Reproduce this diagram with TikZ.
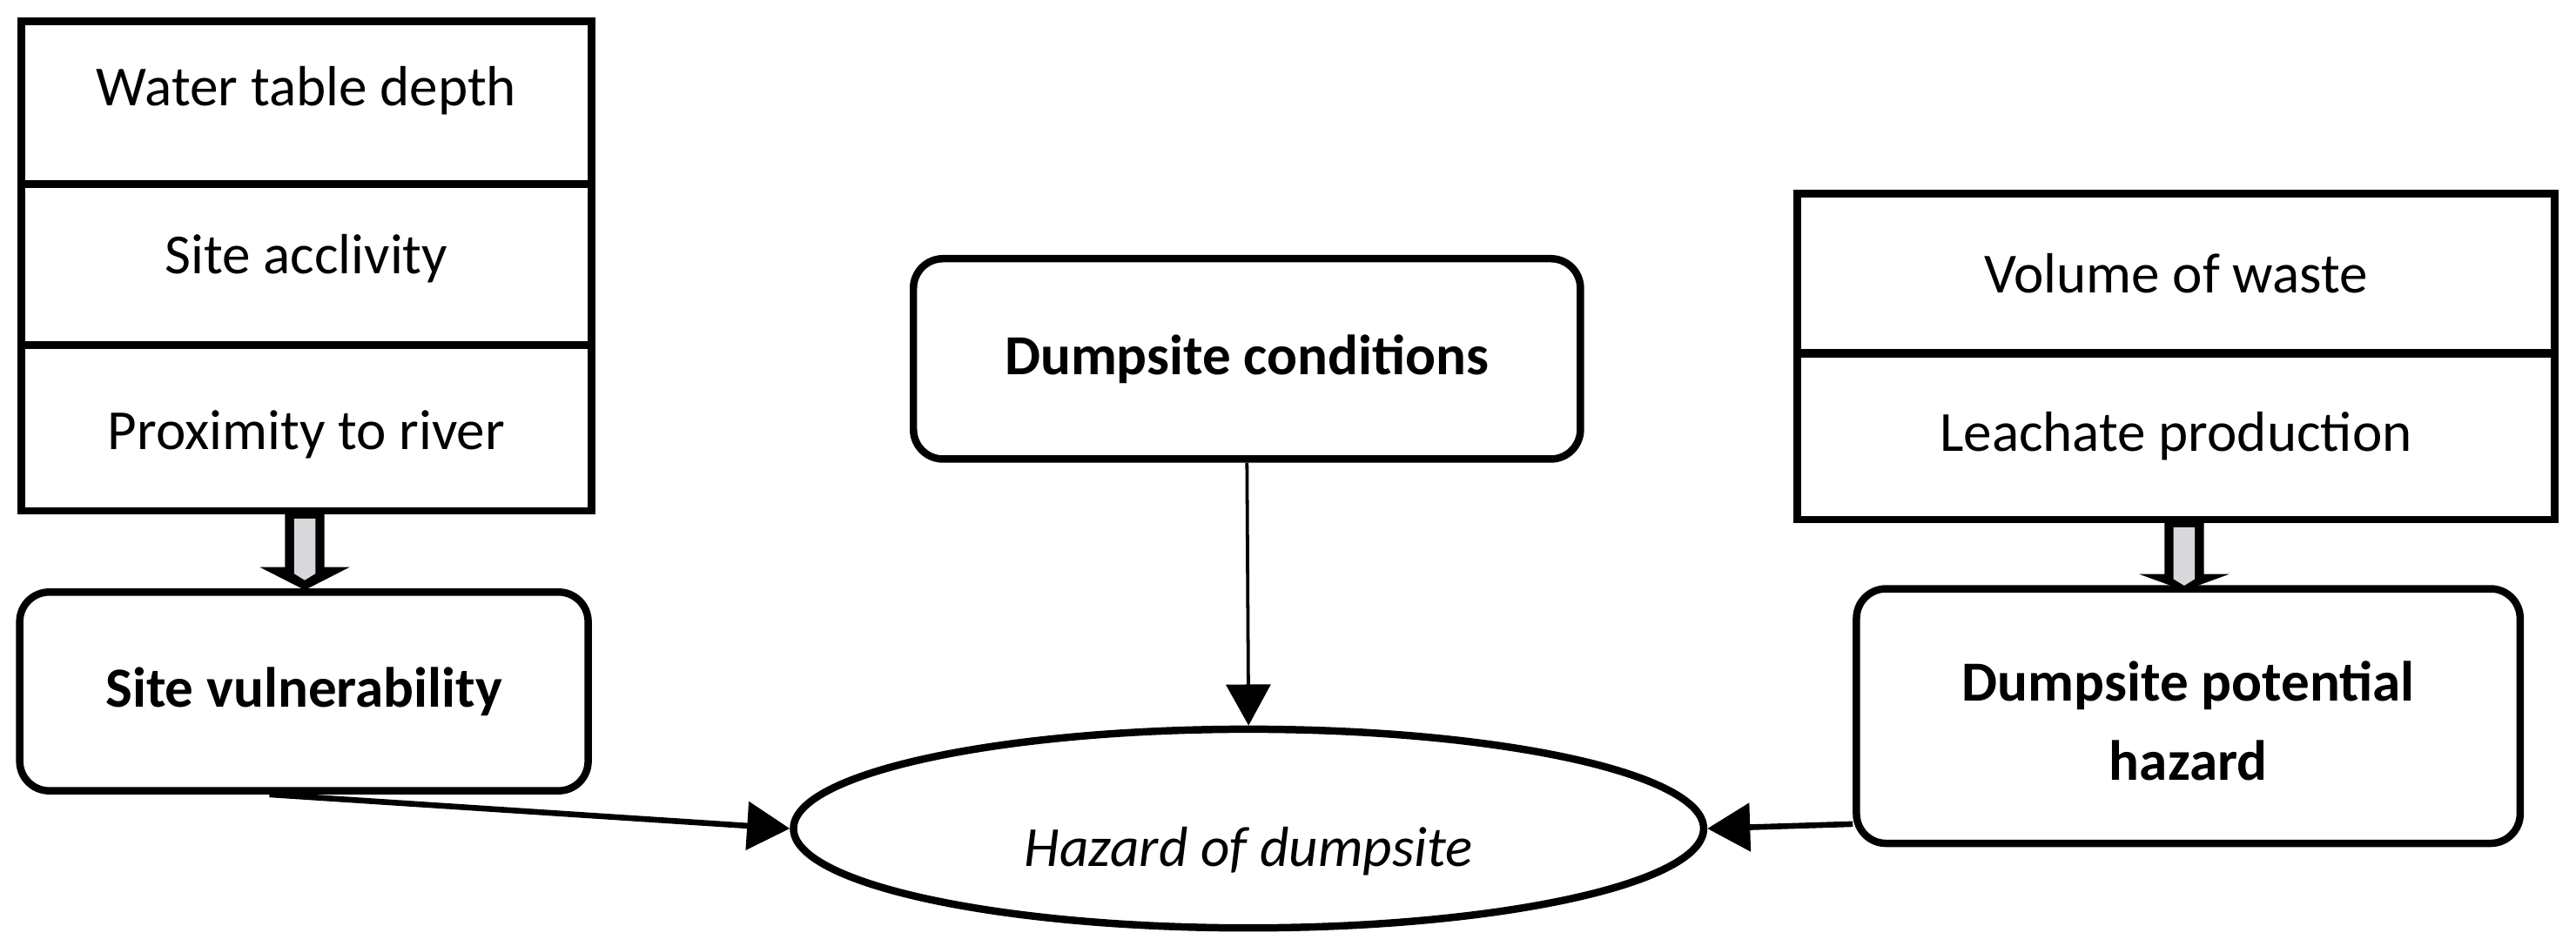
\documentclass[tikz,border=0pt]{standalone}
\usepackage{fontspec}
\setmainfont{Carlito}
\usetikzlibrary{arrows.meta,shapes.geometric,calc}
% hollow block arrow below a node: #1 node anchor, #2 x offset, #3 head base depth, #4 tip depth, #5 gray end depth
\newcommand\hollowarr[5]{%
  \fill[black] ($(#1)+(#2-12,0)$) -- ++(0,#3) -- ++(-15.5,0) -- ($(#1)+(#2,#4)$)
     -- ($(#1)+(#2+27.5,#3)$) -- ++(-15.5,0) -- ($(#1)+(#2+12,0)$) -- cycle;
  \fill[arrowgray] ($(#1)+(#2-6.5,2.5)$) -- ($(#1)+(#2-6.5,#5-4)$) -- ($(#1)+(#2,#5)$)
     -- ($(#1)+(#2+6.5,#5-4)$) -- ($(#1)+(#2+6.5,2.5)$) -- cycle;}
\definecolor{arrowgray}{HTML}{D8D8DC}
\begin{document}
\begin{tikzpicture}[x=1pt,y=-1pt,
  font=\fontsize{34.5}{42}\selectfont,
  cell/.style={draw,line width=4.5pt,rectangle,inner sep=0pt,align=center},
  rbox/.style={draw,line width=4.5pt,rectangle,rounded corners=18pt,inner sep=0pt,align=center,font=\fontsize{34.5}{48}\selectfont\bfseries},
  conn/.style={line width=3.5pt,-{Triangle[length=26pt,width=29pt]}},
  thinconn/.style={line width=2pt,-{Triangle[length=25pt,width=27pt]}}]
\useasboundingbox (0,0) rectangle (1568,576);
% left stack
\node[cell,minimum width=347pt,minimum height=99pt] (wtd) at (186.5,62.5) {\raisebox{7.5pt}[\height][\depth]{Water table depth}};
\node[cell,minimum width=347pt,minimum height=98pt] (sa) at (186.5,161) {\raisebox{3.5pt}[\height][\depth]{Site acclivity}};
\node[cell,minimum width=347pt,minimum height=101pt] (prox) at (186.5,260.5) {\raisebox{-4pt}[\height][\depth]{Proximity to river}};
% site vulnerability
\node[rbox,minimum width=346pt,minimum height=121pt] (sv) at (185,421) {Site vulnerability};
% dumpsite conditions
\node[rbox,minimum width=406pt,minimum height=122pt] (dc) at (759,218.5) {Dumpsite conditions};
% hazard ellipse
\node[draw,line width=4.5pt,ellipse,minimum width=554pt,minimum height=121pt,inner sep=0pt,font=\fontsize{34.5}{42}\selectfont\itshape] (haz) at (760,504.5) {\raisebox{-14pt}[\height][\depth]{Hazard of dumpsite}};
% right stack
\node[cell,minimum width=461pt,minimum height=97pt] (vol) at (1324.5,166.5) {Volume of waste};
\node[cell,minimum width=461pt,minimum height=101pt] (lea) at (1324.5,265.8) {Leachate production};
% dumpsite potential hazard
\node[rbox,minimum width=404pt,minimum height=155pt] (dph) at (1332,436) {\raisebox{-3pt}[\height][\depth]{Dumpsite potential}\\\raisebox{-3pt}[\height][\depth]{hazard}};
% hollow arrows
\hollowarr{prox.south}{-1}{32}{46}{40}
\hollowarr{lea.south}{5}{31}{41}{38}
% connectors
\draw[thinconn] (dc.south) -- (haz.north);
\draw[conn] ([xshift=-21pt]sv.south) -- (haz.west);
\draw[conn] ([yshift=14pt]dph.south west) -- (haz.east);
\end{tikzpicture}
\end{document}
